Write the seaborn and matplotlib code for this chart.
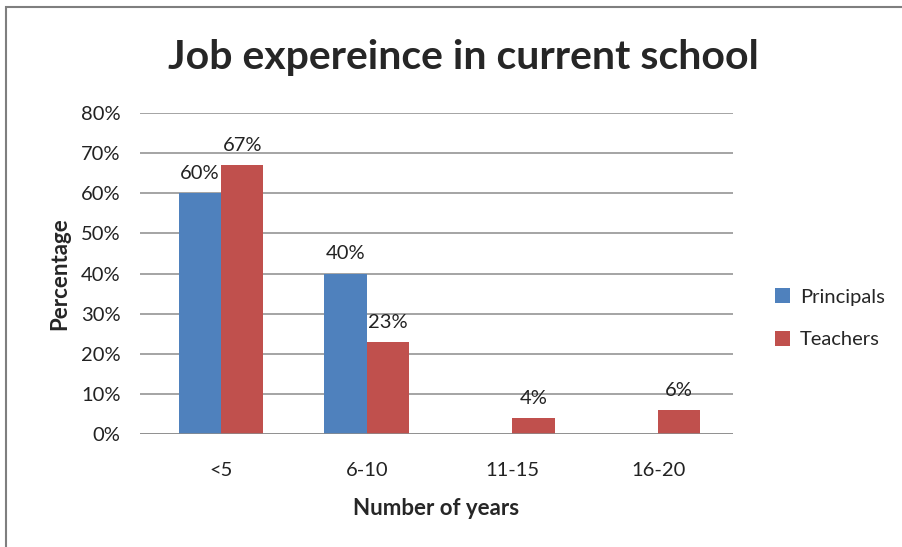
import pandas as pd
import matplotlib.pyplot as plt
import seaborn as sns
from matplotlib.patches import Rectangle

# Chart data
categories = ["<5", "6-10", "11-15", "16-20"]
principals = [60, 40, 0, 0]
teachers = [67, 23, 4, 6]
series_names = ["Principals", "Teachers"]
y_ticks = [0, 10, 20, 30, 40, 50, 60, 70, 80]

df = pd.DataFrame({
    "Years": categories * 2,
    "Group": [series_names[0]] * 4 + [series_names[1]] * 4,
    "Value": principals + teachers,
})

sns.set_style("white")
plt.rcParams["font.family"] = ["Lato", "DejaVu Sans"]

fig = plt.figure(figsize=(9.03, 5.47), dpi=100)
ax = fig.add_axes([140 / 903, 1 - 434 / 547, 593 / 903, 321 / 547])

sns.barplot(data=df, x="Years", y="Value", hue="Group", order=categories,
            hue_order=series_names, palette=["#4F81BD", "#C0504D"],
            width=0.58, saturation=1, linewidth=0, ax=ax, zorder=3, legend=True)

# data labels, skip empty bars
for cont in ax.containers:
    labels = [f"{v:.0f}%" if v > 0 else "" for v in cont.datavalues]
    ax.bar_label(cont, labels=labels, padding=8, fontsize=14.5, color="#222222")

ax.set_ylim(0, 80)
ax.set_xlim(-0.556, 3.514)
ax.set_yticks(y_ticks)
ax.set_yticklabels([f"{t}%" for t in y_ticks], fontsize=14.5, color="#222222")
ax.tick_params(axis="x", labelsize=14.5, colors="#222222", length=0, pad=20)
ax.tick_params(axis="y", length=0, pad=14)
ax.yaxis.grid(True, color="#8C8C8C", linewidth=1.1, zorder=0)
for s in ax.spines.values():
    s.set_visible(False)
ax.axhline(0, color="#8C8C8C", linewidth=1.1, zorder=4)

ax.set_xlabel("Number of years", fontsize=16, fontweight="bold", labelpad=14)
ax.set_ylabel("Percentage", fontsize=16, fontweight="bold", labelpad=8)

fig.text(463 / 903, 1 - 57 / 547, "Job expereince in current school",
         ha="center", va="center", fontsize=29.5, fontweight="bold")

leg = ax.legend(loc="center left", bbox_to_anchor=(1.04, 0.36), frameon=False,
                fontsize=14.5, handlelength=0.75, handleheight=0.75,
                labelspacing=1.25, handletextpad=0.5)

# outer chart border
fig.patches.append(Rectangle((6 / 903, -0.1), 1.2, 1 - 7 / 547 + 0.1,
                             transform=fig.transFigure, fill=False,
                             edgecolor="#7F7F7F", linewidth=1.5))

fig.savefig("out.png", dpi=100)
